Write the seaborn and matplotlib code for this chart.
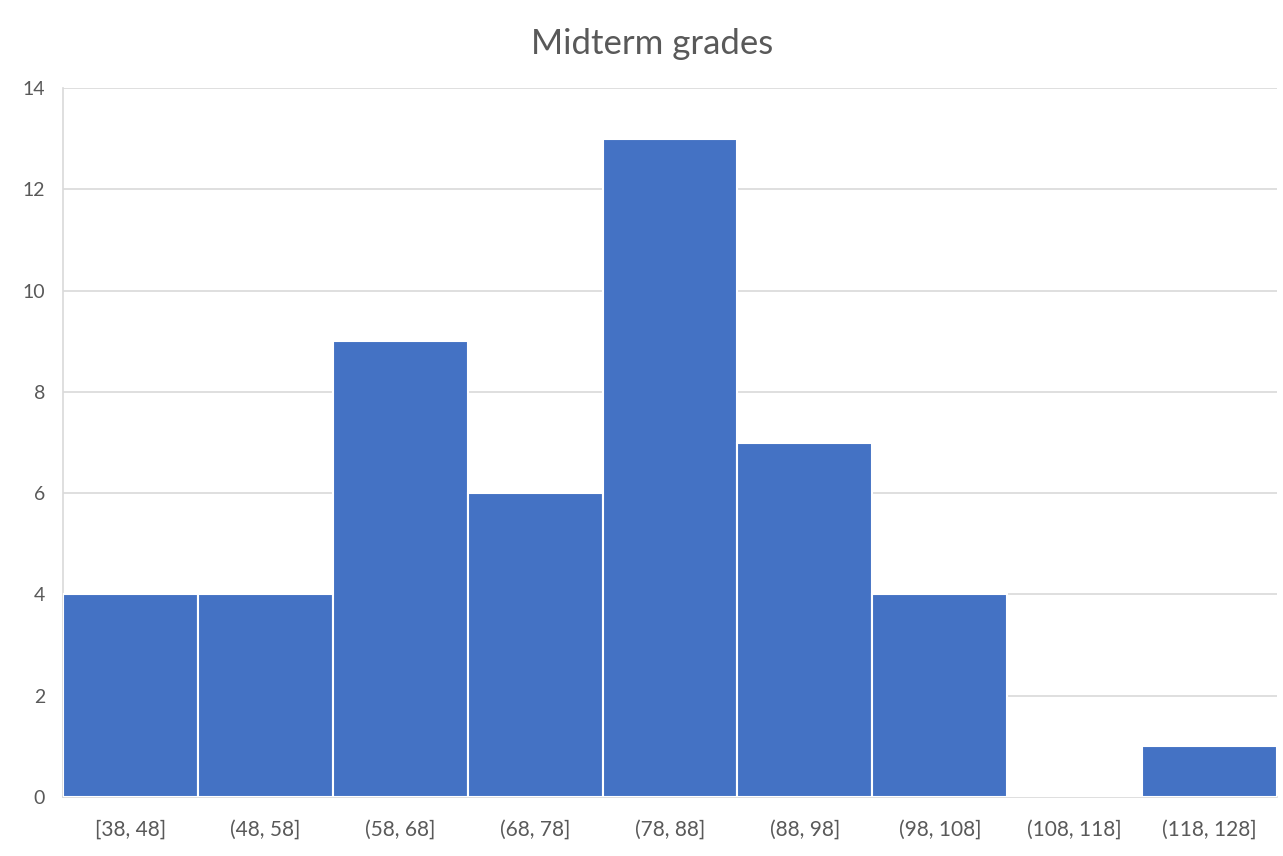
import seaborn as sns
import matplotlib.pyplot as plt
import pandas as pd

# Histogram bins and counts
bins = ["[38, 48]", "(48, 58]", "(58, 68]", "(68, 78]", "(78, 88]",
        "(88, 98]", "(98, 108]", "(108, 118]", "(118, 128]"]
counts = [4, 4, 9, 6, 13, 7, 4, 0, 1]
y_ticks = [0, 2, 4, 6, 8, 10, 12, 14]

df = pd.DataFrame({"bin": bins, "count": counts})

sns.set_style("white")
plt.rcParams['font.family'] = ['Lato', 'DejaVu Sans']

fig = plt.figure(figsize=(12.83, 8.56), dpi=100)
ax = fig.add_axes([0.0491, 0.0689, 0.9462, 0.8283])

sns.barplot(data=df, x="bin", y="count", color="#4472C4", saturation=1,
            width=1.0, edgecolor="white", linewidth=1.5, ax=ax, zorder=3)

ax.set_xlim(-0.5, len(bins) - 0.5)
ax.set_ylim(0, 14)
ax.set_yticks(y_ticks)
ax.yaxis.grid(True, color="#D9D9D9", linewidth=1.2, zorder=0)
ax.set_axisbelow(True)

for side in ["top", "right"]:
    ax.spines[side].set_visible(False)
for side in ["left", "bottom"]:
    ax.spines[side].set_color("#D9D9D9")
    ax.spines[side].set_linewidth(1.2)

ax.tick_params(axis="both", length=0, labelcolor="#595959")
ax.tick_params(axis="x", pad=16, labelsize=15)
ax.tick_params(axis="y", pad=13, labelsize=14)
ax.set_xlabel("")
ax.set_ylabel("")

fig.text(0.508, 0.949, "Midterm grades", ha="center", va="center",
         fontsize=25, color="#595959")

plt.savefig("out.png", dpi=100)
